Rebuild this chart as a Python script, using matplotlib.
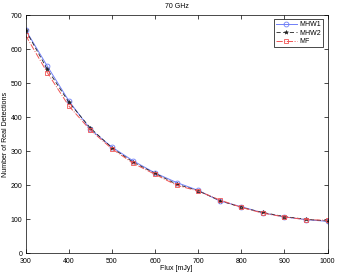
import matplotlib
matplotlib.use("Agg")
import matplotlib.pyplot as plt

plt.rcParams["font.family"] = ["Liberation Sans", "DejaVu Sans"]

flux = [300, 350, 400, 450, 500, 550, 600, 650, 700, 750, 800, 850, 900, 950, 1000]
mhw1 = [656, 550, 448, 364, 312, 271, 236, 208, 185, 154, 137, 119, 107, 99, 94]
mhw2 = [655, 541, 444, 368, 310, 267, 235, 203, 184, 155, 135, 120, 108, 100, 95]
mf = [640, 531, 433, 362, 307, 264, 232, 200, 183, 157, 135, 118, 107, 99, 97]

fig = plt.figure(figsize=(3.38, 2.73), dpi=100)
ax = fig.add_axes([0.076, 0.072, 0.893, 0.873])
fs = 5
ax.plot(flux, mhw1, color="#6f7ff7", ls="-", lw=0.7, marker="o", ms=3.5,
        mfc="none", mew=0.6, label="MHW1")
ax.plot(flux, mhw2, color="#222222", ls=(0, (5, 3)), lw=0.6, marker="*", ms=3,
        mew=0.4, label="MHW2")
ax.plot(flux, mf, color="#f05555", ls="-.", lw=0.7, marker="s", ms=3,
        mfc="none", mew=0.6, label="MF")
ax.set_xlim(300, 1000)
ax.set_ylim(0, 700)
ax.set_xticks(range(300, 1001, 100))
ax.set_yticks(range(0, 701, 100))
ax.tick_params(direction="in", top=True, right=True, labelsize=fs, length=3, width=0.5)
ax.tick_params(axis="x", pad=3)
ax.tick_params(axis="y", pad=2.5)
for s in ax.spines.values():
    s.set_linewidth(0.5)
ax.set_xlabel("Flux [mJy]", fontsize=fs, labelpad=0.5)
ax.set_ylabel("Number of Real Detections", fontsize=fs, labelpad=1)
ax.set_title("70 GHz", fontsize=fs, pad=5)
leg = ax.legend(loc="upper right", fontsize=fs, fancybox=False, edgecolor="black",
                framealpha=1, handlelength=3, borderpad=0.3, labelspacing=0.2,
                handletextpad=0.4, borderaxespad=0.6)
leg.get_frame().set_linewidth(0.5)
fig.savefig("out.png", dpi=100)
